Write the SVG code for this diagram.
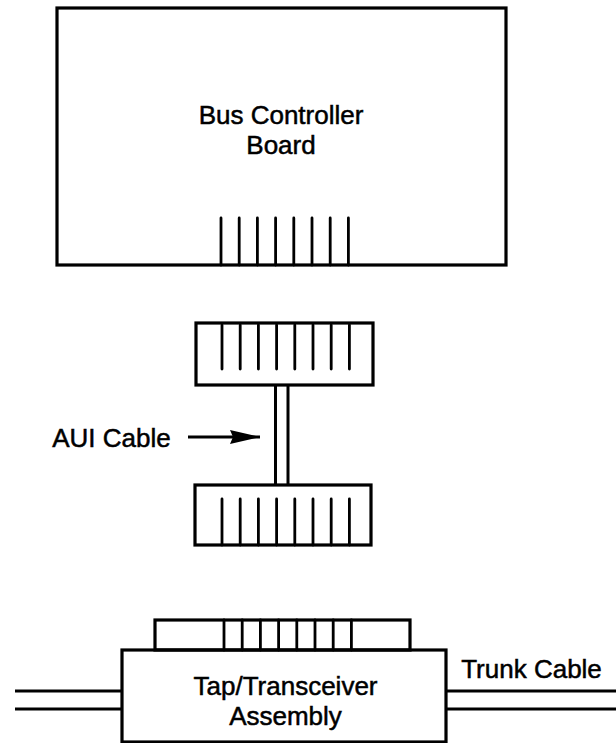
<svg xmlns="http://www.w3.org/2000/svg" width="616" height="743" viewBox="0 0 616 743">
<style>
.box{fill:none;stroke:#000;stroke-width:3.2}
.pin{stroke:#000;stroke-width:2.8;stroke-linecap:round}
.ln{stroke:#000;stroke-width:3;fill:none}
.t{font-family:"Liberation Sans",Arial,sans-serif;font-size:26px;fill:#000;stroke:#000;stroke-width:0.5;text-anchor:middle}
</style>
<defs>
<marker id="ah" markerWidth="32" markerHeight="16" refX="30" refY="8" orient="auto" markerUnits="userSpaceOnUse">
<path d="M0,1 L3,8 L0,15 L30,8 Z" fill="#000"/>
</marker>
</defs>
<rect width="616" height="743" fill="#fff"/>
<g id="bus-controller-board">
<rect class="box" x="57" y="8" width="449" height="257"/>
<path class="pin" d="M221,218V265M239.2,218V265M257.4,218V265M275.6,218V265M293.8,218V265M312,218V265M330.2,218V265M348.4,218V265"/>
<text class="t" x="281" y="124">Bus Controller</text>
<text class="t" x="281" y="154">Board</text>
</g>
<g id="aui-connector-top">
<rect class="box" x="196" y="323" width="177" height="62"/>
<path class="pin" d="M222,325V369M240.2,325V369M258.4,325V369M276.6,325V369M294.8,325V369M313,325V369M331.2,325V369M349.4,325V369"/>
</g>
<g id="aui-connector-bottom">
<rect class="box" x="195" y="485" width="176" height="60"/>
<path class="pin" d="M222,499V545M240.2,499V545M258.4,499V545M276.6,499V545M294.8,499V545M313,499V545M331.2,499V545M349.4,499V545"/>
</g>
<g id="tap-transceiver">
<rect class="box" x="155" y="620" width="255" height="30"/>
<path class="pin" d="M224,620V650M242.2,620V650M260.4,620V650M278.6,620V650M296.8,620V650M315,620V650M333.2,620V650M351.4,620V650"/>
<rect class="box" x="122" y="650" width="324" height="92"/>
<text class="t" x="285.5" y="695">Tap/Transceiver</text>
<text class="t" x="285.5" y="725">Assembly</text>
</g>
<g id="labels">
<text class="t" x="111.5" y="447">AUI Cable</text>
<text class="t" x="531.5" y="678">Trunk Cable</text>
</g>
<g id="connectors">
<path class="ln" d="M275.5,385V485M288,385V485"/>
<path class="ln" d="M188,437H260" marker-end="url(#ah)"/>
<path class="ln" d="M15,691H122M15,709H122M446,691H616M446,709H616"/>
</g>
</svg>
